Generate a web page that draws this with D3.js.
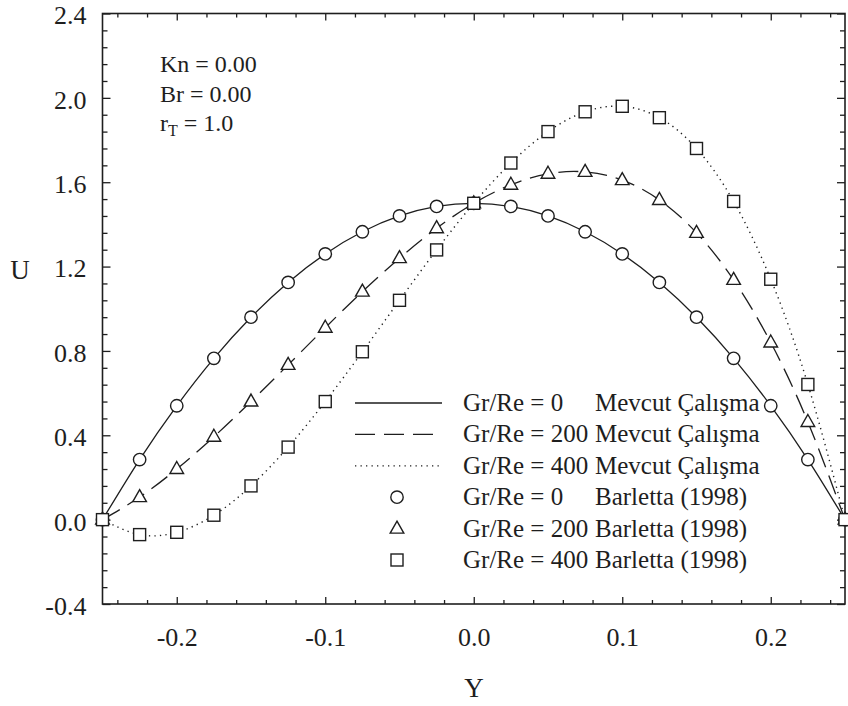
<!DOCTYPE html>
<html>
<head>
<meta charset="utf-8">
<script src="https://cdn.jsdelivr.net/npm/d3@7/dist/d3.min.js"></script>
<style>
  html, body { margin: 0; padding: 0; background: #fff; }
  svg { display: block; }
  svg text { font-family: "Liberation Serif", Tinos, "Times New Roman", Times, "DejaVu Serif", serif !important; fill: #1e1e1e; }
</style>
</head>
<body>
<svg id="chart" width="848" height="706" font-family="Liberation Serif, Times New Roman, DejaVu Serif, serif"></svg>
<script>
// ---- Data ----
const Yvals = [-0.25, -0.225, -0.2, -0.175, -0.15, -0.125, -0.1, -0.075, -0.05, -0.025, 0,
               0.025, 0.05, 0.075, 0.1, 0.125, 0.15, 0.175, 0.2, 0.225, 0.25];
const U_gr0   = [0, 0.285, 0.54, 0.765, 0.96, 1.125, 1.26, 1.365, 1.44, 1.485, 1.5,
                 1.485, 1.44, 1.365, 1.26, 1.125, 0.96, 0.765, 0.54, 0.285, 0];
const U_gr200 = [0, 0.107, 0.24, 0.393, 0.56, 0.734, 0.91, 1.081, 1.24, 1.382, 1.5,
                 1.588, 1.64, 1.649, 1.61, 1.516, 1.36, 1.137, 0.84, 0.463, 0];
const U_gr400 = [0, -0.071, -0.06, 0.021, 0.16, 0.344, 0.56, 0.796, 1.04, 1.279, 1.5,
                 1.691, 1.84, 1.934, 1.96, 1.906, 1.76, 1.509, 1.14, 0.641, 0];
const xMajorTicks = [-0.2, -0.1, 0.0, 0.1, 0.2];
const xTickLabels = ["-0.2", "-0.1", "0.0", "0.1", "0.2"];
const yMajorTicks = [-0.4, 0.0, 0.4, 0.8, 1.2, 1.6, 2.0, 2.4];
const yTickLabels = ["-0.4", "0.0", "0.4", "0.8", "1.2", "1.6", "2.0", "2.4"];
const legendLabels = ["Gr/Re = 0", "Gr/Re = 200", "Gr/Re = 400", "Gr/Re = 0", "Gr/Re = 200", "Gr/Re = 400"];
const legendSources = ["Mevcut Çalışma", "Mevcut Çalışma", "Mevcut Çalışma", "Barletta (1998)", "Barletta (1998)", "Barletta (1998)"];

// ---- Layout ----
const FONT = '"Liberation Serif", Tinos, "Times New Roman", Times, "DejaVu Serif", serif';
const svg = d3.select("#chart");
const L = 102.5, R = 845, T = 13.5, B = 604;
const x = d3.scaleLinear().domain([-0.25, 0.25]).range([L, R]);
const y = d3.scaleLinear().domain([-0.4, 2.4]).range([B, T]);
const ink = "#1e1e1e";

const xMinor = d3.range(-24, 25, 2).map(v => v / 100).filter(v => Math.abs(Math.round(v * 100) % 10) !== 0);
const yMinor = d3.range(-40, 241, 8).map(v => v / 100).filter(v => Math.abs(Math.round(v * 100) % 40) !== 0);

function styleAxis(g) {
  g.attr("font-family", null);
  g.select(".domain").remove();
  g.selectAll("line").attr("stroke", ink).attr("stroke-width", 1.3);
}
// bottom
svg.append("g").attr("transform", `translate(0,${B})`)
  .call(d3.axisBottom(x).tickValues(xMajorTicks).tickSize(-7).tickFormat((d, i) => xTickLabels[i]))
  .call(styleAxis)
  .call(g => g.selectAll("text").attr("y", 42).attr("dy", 0).attr("font-size", 26)
      .attr("fill", ink).style("font-family", FONT));
svg.append("g").attr("transform", `translate(0,${B})`)
  .call(d3.axisBottom(x).tickValues(xMinor).tickSize(-4).tickFormat(""))
  .call(styleAxis);
// top
svg.append("g").attr("transform", `translate(0,${T})`)
  .call(d3.axisTop(x).tickValues(xMajorTicks).tickSize(-7).tickFormat(""))
  .call(styleAxis);
svg.append("g").attr("transform", `translate(0,${T})`)
  .call(d3.axisTop(x).tickValues(xMinor).tickSize(-4).tickFormat(""))
  .call(styleAxis);
// left
svg.append("g").attr("transform", `translate(${L},0)`)
  .call(d3.axisLeft(y).tickValues(yMajorTicks).tickSize(-8).tickFormat((d, i) => yTickLabels[i]))
  .call(styleAxis)
  .call(g => g.selectAll("text").attr("x", -16).attr("dy", "0.4em").attr("font-size", 26)
      .attr("fill", ink).style("font-family", FONT));
svg.append("g").attr("transform", `translate(${L},0)`)
  .call(d3.axisLeft(y).tickValues(yMinor).tickSize(-5).tickFormat(""))
  .call(styleAxis);
// right
svg.append("g").attr("transform", `translate(${R},0)`)
  .call(d3.axisRight(y).tickValues(yMajorTicks).tickSize(-8).tickFormat(""))
  .call(styleAxis);
svg.append("g").attr("transform", `translate(${R},0)`)
  .call(d3.axisRight(y).tickValues(yMinor).tickSize(-5).tickFormat(""))
  .call(styleAxis);

// frame
svg.append("rect").attr("x", L).attr("y", T).attr("width", R - L).attr("height", B - T)
  .attr("fill", "none").attr("stroke", ink).attr("stroke-width", 1.6);

// axis titles
svg.append("text").attr("x", 20).attr("y", 279).attr("text-anchor", "middle").attr("font-size", 27).style("font-family", FONT).text("U");
svg.append("text").attr("x", 474).attr("y", 697).attr("text-anchor", "middle").attr("font-size", 27).style("font-family", FONT).text("Y");

// annotation
const ann = svg.append("g").attr("font-size", 24);
ann.append("text").attr("x", 160).attr("y", 72).style("font-family", FONT).text("Kn = 0.00");
ann.append("text").attr("x", 160).attr("y", 101.5).style("font-family", FONT).text("Br = 0.00");
const rt = ann.append("text").attr("x", 160).attr("y", 131).style("font-family", FONT);
rt.append("tspan").text("r");
rt.append("tspan").attr("font-size", 16).attr("dy", 5).text("T");
rt.append("tspan").attr("dy", -5).text(" = 1.0");

// ---- Lines ----
const series = [
  { u: U_gr0, dash: null, marker: "circle" },
  { u: U_gr200, dash: "20,9", marker: "triangle" },
  { u: U_gr400, dash: "1.3,4.2", marker: "square" }
];
const line = d3.line().x(d => x(d[0])).y(d => y(d[1])).curve(d3.curveNatural);
series.forEach(s => {
  svg.append("path").datum(Yvals.map((v, i) => [v, s.u[i]]))
    .attr("d", line).attr("fill", "none").attr("stroke", ink)
    .attr("stroke-width", s.dash === "1.3,4.2" ? 1.4 : 1.3)
    .attr("stroke-dasharray", s.dash);
});

// ---- Markers ----
function drawMarker(g, type, cx, cy) {
  if (type === "circle") {
    g.append("circle").attr("cx", cx).attr("cy", cy).attr("r", 6.2);
  } else if (type === "square") {
    g.append("rect").attr("x", cx - 6).attr("y", cy - 6).attr("width", 12).attr("height", 12);
  } else {
    g.append("path").attr("d", `M${cx},${cy - 7.5} L${cx + 6.8},${cy + 4.5} L${cx - 6.8},${cy + 4.5} Z`);
  }
}
const mk = svg.append("g").attr("fill", "#fff").attr("stroke", ink).attr("stroke-width", 1.4);
series.forEach(s => {
  Yvals.forEach((v, i) => drawMarker(mk, s.marker, x(v), y(s.u[i])));
});

// ---- Legend ----
const lg = svg.append("g").attr("font-size", 25);
const rowY0 = 403, rowDy = 31.4;
legendLabels.forEach((lab, i) => {
  const cy = rowY0 + i * rowDy;
  if (i < 3) {
    lg.append("line").attr("x1", 355).attr("x2", 442).attr("y1", cy).attr("y2", cy)
      .attr("stroke", ink).attr("stroke-width", 1.3)
      .attr("stroke-dasharray", series[i].dash);
  } else {
    const gg = lg.append("g").attr("fill", "#fff").attr("stroke", ink).attr("stroke-width", 1.4);
    drawMarker(gg, series[i - 3].marker, 397, cy);
  }
  lg.append("text").attr("x", 463).attr("y", cy + 8).style("font-family", FONT).text(lab);
  lg.append("text").attr("x", 595).attr("y", cy + 8).style("font-family", FONT).text(legendSources[i]);
});
</script>
</body>
</html>
